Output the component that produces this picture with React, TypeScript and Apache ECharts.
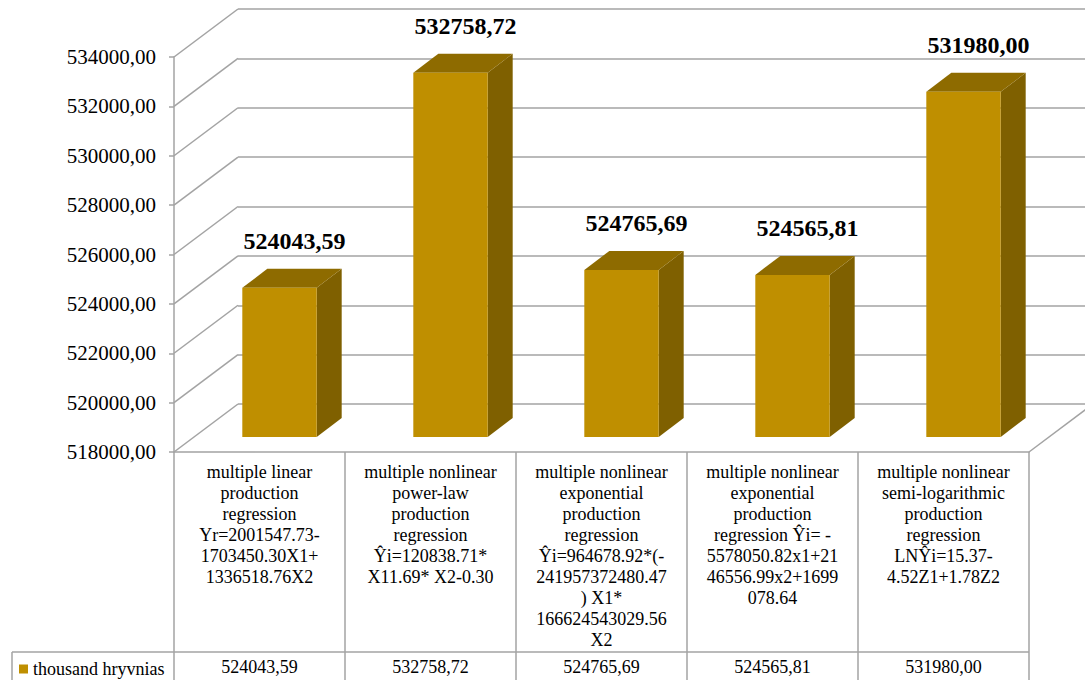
import React, { useEffect, useRef } from "react";
import * as echarts from "echarts";

const categories: string[] = [
  "multiple linear\nproduction\nregression\nYr=2001547.73-\n1703450.30X1+\n1336518.76X2",
  "multiple nonlinear\npower-law\nproduction\nregression\nŶi=120838.71*\nX11.69* X2-0.30",
  "multiple nonlinear\nexponential\nproduction\nregression\nŶi=964678.92*(-\n241957372480.47\n) X1*\n166624543029.56\nX2",
  "multiple nonlinear\nexponential\nproduction\nregression Ŷi= -\n5578050.82x1+21\n46556.99x2+1699\n078.64",
  "multiple nonlinear\nsemi-logarithmic\nproduction\nregression\nLNŶi=15.37-\n4.52Z1+1.78Z2",
];
const values: number[] = [524043.59, 532758.72, 524765.69, 524565.81, 531980.0];
const yTicks: number[] = [518000, 520000, 522000, 524000, 526000, 528000, 530000, 532000, 534000];
const seriesName = "thousand hryvnias";

const fmt = (v: number) => Number(v).toFixed(2).replace(".", ",");

const SERIF = "'Liberation Serif', 'Times New Roman', serif";
const GRID_COLOR = "#A3A3A3";
const BAR_FRONT = "#BF8F00";
const BAR_TOP = "#8E6B00";
const BAR_SIDE = "#7F6000";
const DX = 64;
const DY = 48;
const BX = 20;
const BY = 15;
const BDX = 25;
const BDY = 19;

export default function App() {
  const ref = useRef<HTMLDivElement>(null);
  useEffect(() => {
    if (!ref.current) return;
    const chart = echarts.init(ref.current, null, { renderer: "svg" });
    const L = 174, T = 57, W = 855, H = 395;
    const lineStyle = { color: GRID_COLOR, width: 1.5 };
    const yMin = yTicks[0];
    const yMax = yTicks[yTicks.length - 1];
    const yStep = yTicks[1] - yTicks[0];
    chart.setOption({
      animation: false,
      backgroundColor: "#ffffff",
      grid: [
        { left: L, top: T, width: W, height: H },
        { left: L + DX, top: T - DY, width: W, height: H },
      ],
      legend: {
        left: 14,
        top: 655,
        icon: "rect",
        itemWidth: 9,
        itemHeight: 9,
        itemGap: 5,
        textStyle: { fontFamily: SERIF, fontSize: 18, color: "#000" },
        data: [{ name: seriesName, itemStyle: { color: BAR_FRONT } }],
      },
      xAxis: [
        {
          gridIndex: 0,
          type: "category",
          data: categories,
          position: "bottom",
          axisLine: { show: true, lineStyle },
          axisTick: { show: true, interval: 0, length: 228, lineStyle },
          axisLabel: {
            interval: 0,
            margin: 9,
            fontFamily: SERIF,
            fontSize: 18,
            lineHeight: 21,
            color: "#000",
            align: "center",
            verticalAlign: "top",
          },
          splitLine: { show: false },
        },
        {
          gridIndex: 0,
          type: "category",
          data: values.map(fmt),
          position: "bottom",
          offset: 200,
          axisLine: { show: false },
          axisTick: { show: false },
          axisLabel: {
            interval: 0,
            margin: 6,
            fontFamily: SERIF,
            fontSize: 18,
            color: "#000",
          },
        },
        { gridIndex: 1, type: "category", data: categories, show: false },
      ],
      yAxis: [
        {
          gridIndex: 0,
          type: "value",
          min: yMin,
          max: yMax,
          interval: yStep,
          axisLine: { show: true, lineStyle },
          axisTick: { show: true, length: 5, lineStyle },
          axisLabel: {
            formatter: (v: number) => fmt(v),
            margin: 18,
            fontFamily: SERIF,
            fontSize: 21,
            color: "#000",
          },
          splitLine: { show: false },
        },
        {
          gridIndex: 1,
          type: "value",
          min: yMin,
          max: yMax,
          interval: yStep,
          axisLine: { show: false },
          axisTick: { show: false },
          axisLabel: { show: false },
          splitLine: { show: true, lineStyle },
        },
      ],
      graphic: [
        { type: "line", shape: { x1: 12, y1: 652, x2: L + W, y2: 652 }, style: { stroke: GRID_COLOR, lineWidth: 1.5 } },
        { type: "line", shape: { x1: 12, y1: 652, x2: 12, y2: 680 }, style: { stroke: GRID_COLOR, lineWidth: 1.5 } },
      ],
      series: [
        {
          type: "custom",
          xAxisIndex: 0,
          yAxisIndex: 0,
          silent: true,
          z: 1,
          data: yTicks.map((v) => [0, v]),
          renderItem: (params: any, api: any) => {
            const v = api.value(1);
            const y = api.coord([0, v])[1];
            const cs = params.coordSys;
            const st = { stroke: GRID_COLOR, lineWidth: 1.5 };
            const children: any[] = [
              { type: "line", shape: { x1: cs.x, y1: y, x2: cs.x + DX, y2: y - DY }, style: st },
            ];
            if (v === yMin) {
              children.push({
                type: "line",
                shape: { x1: cs.x + cs.width, y1: y, x2: cs.x + cs.width + DX, y2: y - DY },
                style: st,
              });
            }
            return { type: "group", children };
          },
        },
        {
          type: "custom",
          name: seriesName,
          xAxisIndex: 0,
          yAxisIndex: 0,
          z: 5,
          itemStyle: { color: BAR_FRONT },
          data: values.map((v, i) => [i, v]),
          renderItem: (params: any, api: any) => {
            const i = api.value(0);
            const v = api.value(1);
            const top = api.coord([i, v]);
            const base = api.coord([i, yMin]);
            const bw = api.size([1, 0])[0] * 0.435;
            const cx = top[0] + BX;
            const xl = cx - bw / 2;
            const xr = cx + bw / 2;
            const yt = top[1] - BY;
            const yb = base[1] - BY;
            return {
              type: "group",
              children: [
                {
                  type: "polygon",
                  shape: { points: [[xr, yt], [xr + BDX, yt - BDY], [xr + BDX, yb - BDY], [xr, yb]] },
                  style: { fill: BAR_SIDE },
                },
                {
                  type: "polygon",
                  shape: { points: [[xl, yt], [xr, yt], [xr + BDX, yt - BDY], [xl + BDX, yt - BDY]] },
                  style: { fill: BAR_TOP },
                },
                {
                  type: "rect",
                  shape: { x: xl, y: yt, width: bw, height: yb - yt },
                  style: { fill: BAR_FRONT },
                },
                {
                  type: "text",
                  x: cx + 15,
                  y: yt - 47,
                  style: {
                    text: fmt(v),
                    fontFamily: SERIF,
                    fontWeight: "bold",
                    fontSize: 24,
                    fill: "#000",
                    align: "center",
                    verticalAlign: "middle",
                  },
                },
              ],
            };
          },
        },
      ],
    });
    return () => chart.dispose();
  }, []);
  return (
    <div
      ref={ref}
      style={{ position: "fixed", left: 0, top: 0, width: 1085, height: 680, background: "#fff" }}
    />
  );
}
